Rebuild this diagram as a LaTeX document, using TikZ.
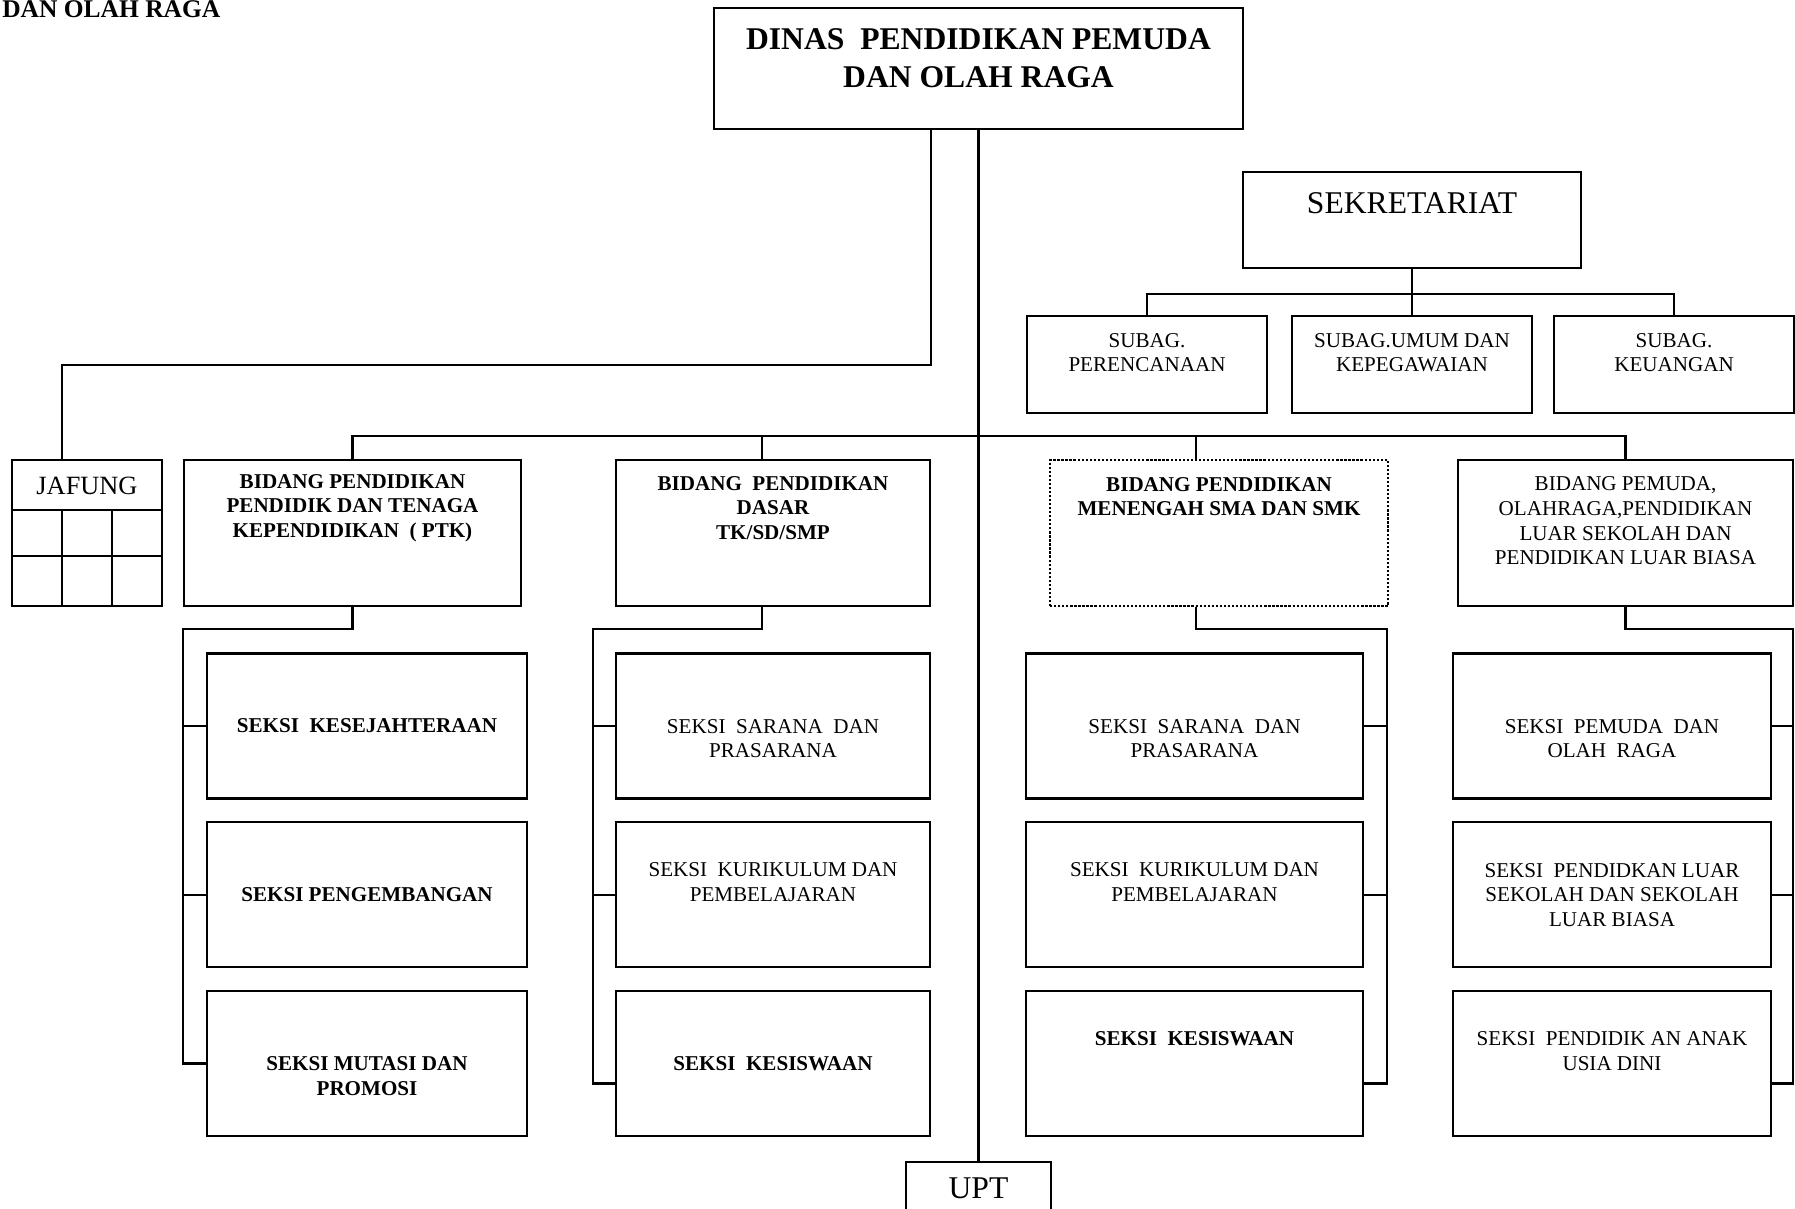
\documentclass[tikz,border=0pt]{standalone}
\usepackage{fontspec}
\setmainfont{Liberation Serif}
\usetikzlibrary{positioning}
\tikzset{
frame/.style={draw, line width=1.3pt, inner sep=0pt}, % every box of the chart
bidang/.style={frame, minimum height=29.2mm}, % the four bidang boxes
seksi/.style={frame, minimum height=29mm}, % the seksi boxes below them
txt/.style={align=center, font=\fontsize{12}{14}\selectfont}, % plain box text
txtb/.style={txt, font=\fontsize{12}{14}\selectfont\bfseries}, % bold box text
wire/.style={line width=1.3pt}, % lines between the boxes
}

\begin{document}
\begin{tikzpicture}[x=0.2mm, y=-0.2mm, node distance=33.75mm]
  \useasboundingbox (0,0) rectangle (1795,1208);

  \node[anchor=base west, inner sep=0pt, font=\fontsize{14.5}{17}\selectfont\bfseries] (hdr) at (2,17) {DAN OLAH RAGA};

  \node[frame, minimum width=105.8mm, minimum height=24.2mm, label={[align=center, font=\fontsize{18}{21.6}\selectfont\bfseries, yshift=2.1mm]center:{DINAS\ \ PENDIDIKAN PEMUDA\\DAN OLAH RAGA}}] (dinas) at (978.5,68.5) {};
  \node[frame, minimum width=67.6mm, minimum height=19.2mm, label={[font=\fontsize{18}{21.6}\selectfont, yshift=3.4mm]center:SEKRETARIAT}] (sekr) at (1412,220) {};
  \node[frame, minimum width=48mm, minimum height=19.4mm, label={[txt, yshift=2.4mm]center:{SUBAG.\\PERENCANAAN}}] (sub1) at (1147,364.5) {};
  \node[frame, minimum width=48mm, minimum height=19.4mm, label={[txt, yshift=2.4mm]center:{SUBAG.UMUM DAN\\KEPEGAWAIAN}}] (sub2) at (1412,364.5) {};
  \node[frame, minimum width=48mm, minimum height=19.4mm, label={[txt, yshift=2.4mm]center:{SUBAG.\\KEUANGAN}}] (sub3) at (1674,364.5) {};

  \node[frame, minimum width=30mm, minimum height=29.2mm, label={[font=\fontsize{15}{18}\selectfont, yshift=9.4mm]center:JAFUNG}] (jaf) at (87,533) {};
  \node[bidang, minimum width=67.4mm, label={[txtb, yshift=5mm]center:{BIDANG PENDIDIKAN\\PENDIDIK DAN TENAGA\\KEPENDIDIKAN\ \ ( PTK)}}] (b1) at (352.5,533) {};
  \node[bidang, minimum width=62.8mm, label={[txtb, yshift=5mm]center:{BIDANG\ \ PENDIDIKAN\\DASAR\\TK/SD/SMP}}] (b2) at (773,533) {};
  \node[bidang, minimum width=67.6mm, densely dotted, line width=0.8pt, label={[txtb, yshift=7.3mm]center:{BIDANG PENDIDIKAN\\MENENGAH SMA DAN SMK}}] (b3) at (1219,533) {};
  \node[bidang, minimum width=67mm, label={[txt, yshift=2.4mm]center:{BIDANG PEMUDA,\\OLAHRAGA,PENDIDIKAN\\LUAR SEKOLAH DAN\\PENDIDIKAN LUAR BIASA}}] (b4) at (1625.5,533) {};

  \node[seksi, minimum width=64mm, label={[txtb]center:{SEKSI\ \ KESEJAHTERAAN}}] (s11) at (367,726) {};
  \node[seksi, minimum width=64mm, below of=s11, label={[txtb]center:{SEKSI PENGEMBANGAN}}] (s12) {};
  \node[seksi, minimum width=64mm, below of=s12, label={[txtb, yshift=-2.5mm]center:{SEKSI MUTASI DAN\\PROMOSI}}] (s13) {};

  \node[seksi, minimum width=62.8mm, label={[txt, yshift=-2.5mm]center:{SEKSI\ \ SARANA\ \ DAN\\PRASARANA}}] (s21) at (773,726) {};
  \node[seksi, minimum width=62.8mm, below of=s21, label={[txt, yshift=2.5mm]center:{SEKSI\ \ KURIKULUM DAN\\PEMBELAJARAN}}] (s22) {};
  \node[seksi, minimum width=62.8mm, below of=s22, label={[txtb]center:{SEKSI\ \ KESISWAAN}}] (s23) {};

  \node[seksi, minimum width=67.4mm, label={[txt, yshift=-2.5mm]center:{SEKSI\ \ SARANA\ \ DAN\\PRASARANA}}] (s31) at (1194.5,726) {};
  \node[seksi, minimum width=67.4mm, below of=s31, label={[txt, yshift=2.5mm]center:{SEKSI\ \ KURIKULUM DAN\\PEMBELAJARAN}}] (s32) {};
  \node[seksi, minimum width=67.4mm, below of=s32, label={[txtb, yshift=5mm]center:{SEKSI\ \ KESISWAAN}}] (s33) {};

  \node[seksi, minimum width=63.6mm, label={[txt, yshift=-2.5mm]center:{SEKSI\ \ PEMUDA\ \ DAN\\OLAH\ \ RAGA}}] (s41) at (1612,726) {};
  \node[seksi, minimum width=63.6mm, below of=s41, label={[txt]center:{SEKSI\ \ PENDIDKAN LUAR\\SEKOLAH DAN SEKOLAH\\LUAR BIASA}}] (s42) {};
  \node[seksi, minimum width=63.6mm, below of=s42, label={[txt, yshift=2.5mm]center:{SEKSI\ \ PENDIDIK AN ANAK\\USIA DINI}}] (s43) {};

  \node[frame, minimum width=29mm, minimum height=10.4mm, font=\fontsize{18}{21.6}\selectfont] (upt) at (978.5,1188) {UPT};

  \draw[wire] ([yshift=-10.2mm]jaf.north west) -- ([yshift=-10.2mm]jaf.north east);
  \draw[wire] ([yshift=-19.4mm]jaf.north west) -- ([yshift=-19.4mm]jaf.north east);
  \draw[wire] ([xshift=-5mm, yshift=-10.2mm]jaf.north) -- ([xshift=-5mm]jaf.south);
  \draw[wire] ([xshift=5mm, yshift=-10.2mm]jaf.north) -- ([xshift=5mm]jaf.south);

  \draw[wire] ([xshift=-9.5mm]dinas.south) -- ++(0,235) -| ([xshift=-5mm]jaf.north);
  \draw[wire] (dinas.south) -- (upt.north);
  \draw[wire] (b1.north) -- ++(0,-23) -| (b4.north);
  \draw[wire] ([xshift=-2.2mm]b2.north) -- ++(0,-23);
  \draw[wire] ([xshift=-4.6mm]b3.north) -- ++(0,-23);

  \draw[wire] (sekr.south) -- ++(0,25) coordinate (sk);
  \draw[wire] (sub1.north) |- (sk) -| (sub3.north);
  \draw[wire] (sk) -- (sub2.north);

  \draw[wire] (b1.south) -- ++(0,22) -| ([xshift=-4.6mm]s13.west) -- (s13.west);
  \draw[wire] ([xshift=-2.2mm]b2.south) -- ++(0,22) -| ([xshift=-4.4mm, yshift=-4mm]s23.west) -- ([yshift=-4mm]s23.west);
  \draw[wire] ([xshift=-4.6mm]b3.south) -- ++(0,22) -| ([xshift=4.6mm, yshift=-4mm]s33.east) -- ([yshift=-4mm]s33.east);
  \draw[wire] (b4.south) -- ++(0,22) -| ([xshift=4.2mm, yshift=-4mm]s43.east) -- ([yshift=-4mm]s43.east);
  \foreach \s in {s11,s12} \draw[wire] ([xshift=-4.6mm]\s.west) -- (\s.west);
  \foreach \s in {s21,s22} \draw[wire] ([xshift=-4.4mm]\s.west) -- (\s.west);
  \foreach \s in {s31,s32} \draw[wire] (\s.east) -- ([xshift=4.6mm]\s.east);
  \foreach \s in {s41,s42} \draw[wire] (\s.east) -- ([xshift=4.2mm]\s.east);
\end{tikzpicture}
\end{document}
